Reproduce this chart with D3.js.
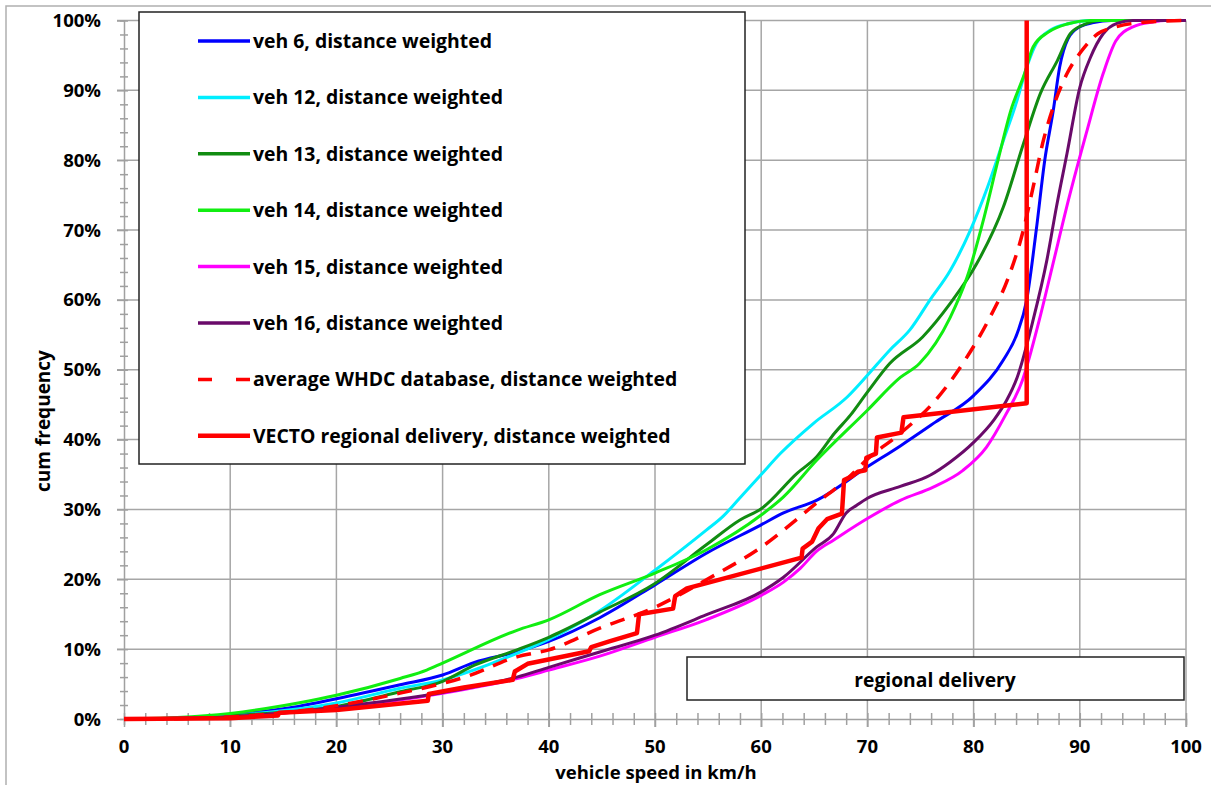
<!DOCTYPE html>
<html>
<head>
<meta charset="UTF-8">
<script src="https://d3js.org/d3.v7.min.js"></script>
<style>
  body { margin: 0; background: #fff; }
  svg text { font-family: "Open Sans", Lato, sans-serif; font-weight: 700; fill: #000; }
</style>
</head>
<body>
<svg></svg>
<script>

var width = 1211, height = 785;

// [speed km/h, cum frequency %]
var veh6 = [[0,0],[5,0.1],[10,0.6],[16.4,1.8],[20,2.9],[26,4.9],[30,6.3],[33,8.1],[37,9.6],[40,11.1],[44.8,14.5],[50,19.2],[54.8,23.7],[60,27.8],[62.1,29.5],[65.2,31.3],[70,36.1],[73.1,39.1],[76.4,42.5],[80,46.3],[82.8,51.4],[84.1,55.2],[85,60],[85.9,70],[86.7,80],[87.5,87.1],[88.1,93.3],[88.9,97.4],[90,99.1],[91.3,99.7],[93,100],[100,100]];
var veh12 = [[0,0],[5,0.1],[10,0.5],[20,2.3],[26,4.4],[30,5.6],[37,9.4],[40,11.4],[44.8,15.5],[50,21.3],[54.8,27],[56.4,29],[57.9,31.5],[60,35],[61.8,38],[64.9,42.3],[68.1,46.1],[70,49.2],[72.1,52.8],[74,55.7],[75.9,60],[77.8,64.2],[79.7,70],[81.3,76.1],[82.8,82.8],[84.1,88.6],[85,93.3],[85.9,96.7],[87.2,98.6],[89.1,99.6],[91,100],[100,100]];
var veh13 = [[0,0],[5,0.1],[10,0.5],[20,1.8],[26,3.9],[30,5.4],[33,7.7],[37,9.9],[40,11.7],[44.8,15.3],[50,19.4],[54.8,24.9],[58,28.5],[60,30.1],[63.4,35.2],[65.2,37.5],[66.9,40.9],[68.4,43.5],[70,46.8],[72.1,50.9],[75.2,54.7],[77.8,59.5],[80.3,65.2],[82.8,73.3],[84.7,82.4],[86.3,89.6],[87.9,94.3],[89.1,98.1],[90.4,99.4],[92,100],[100,100]];
var veh14 = [[0,0],[5,0.2],[10,0.8],[16.4,2.3],[20,3.4],[26,5.8],[28.5,7],[30,8],[37,12.7],[40,14.2],[44.8,17.8],[50,20.9],[54.8,24.2],[60,29.2],[62.1,31.8],[65.2,37],[70,44.2],[73.1,48.9],[74.9,50.9],[77.8,57.5],[79.4,63.3],[81,71.9],[82.3,80],[83.5,87.1],[84.8,92.4],[85.6,96.2],[87,98.3],[88.8,99.5],[91,100],[100,100]];
var veh15 = [[0,0],[5,0.1],[10,0.3],[20,1.6],[30,3.7],[37,5.8],[40,7],[44.8,9],[50,11.7],[54.8,14.2],[60,17.7],[62.1,19.6],[63.7,21.6],[65.2,24],[66.8,25.6],[70,28.7],[73.1,31.3],[76.2,33.2],[79,35.6],[81.2,38.9],[83,43.5],[84.6,48.5],[86.2,57.2],[87.4,64.7],[89,74.7],[90.6,83.8],[92.2,92.4],[93.4,97.1],[95,99.1],[96.9,99.8],[98,100],[100,100]];
var veh16 = [[0,0],[5,0.1],[10,0.3],[20,1.7],[30,3.8],[37,6],[40,7.4],[44.8,9.6],[50,12],[54.8,14.9],[60,18.2],[62.1,20.3],[65.2,24.6],[66.8,26.5],[68,29.5],[69,30.6],[70,31.6],[73.1,33.3],[75.9,34.9],[77.8,36.8],[80,39.6],[81.9,42.8],[83.1,45.6],[84.1,48.9],[85.6,57.1],[86.9,65.7],[87.8,73.3],[88.8,81],[90,90.4],[91,94.7],[92.2,98.1],[93.5,99.6],[95,100],[100,100]];
var avgWhdc = [[0,0],[5,0.05],[10,0.3],[20,1.9],[26,3.7],[30,5.1],[32.3,6.1],[37,8.9],[40,9.9],[44.8,13],[50,16],[54.8,19.9],[60,24.6],[65.2,30.9],[68.1,34.4],[70,37.2],[73.1,40.9],[76.4,45.6],[79.2,51.4],[81.4,57.1],[83.3,63.3],[84.6,69.5],[85.6,76.1],[86.5,82.4],[87.5,87.6],[88.8,92.4],[90,95.3],[91.7,98.1],[93.2,99],[95.7,99.7],[100,100]];
var vecto = [[0,0],[10,0.1],[12,0.3],[14.5,0.5],[14.6,0.9],[20,1.3],[24,1.9],[28.6,2.6],[28.7,3.6],[32,4.5],[36.6,5.6],[36.8,6.8],[38,7.9],[43.8,9.7],[44,10.3],[45.7,11.1],[48.3,12.3],[48.5,15],[51.7,15.8],[51.9,17.6],[53,18.7],[63.8,23.1],[63.9,24.4],[64.8,25.4],[65.4,27.3],[66.2,28.6],[67.6,29.4],[67.8,34.2],[68.5,34.7],[69.1,35.4],[69.8,35.6],[69.9,37.4],[70.8,38],[70.9,40.3],[73.2,41],[73.4,43.2],[85,45.2],[85,100]];

var seriesNames = ["veh 6, distance weighted","veh 12, distance weighted","veh 13, distance weighted","veh 14, distance weighted","veh 15, distance weighted","veh 16, distance weighted","average WHDC database, distance weighted","VECTO regional delivery, distance weighted"];
var seriesData = [veh6, veh12, veh13, veh14, veh15, veh16, avgWhdc, vecto];
var seriesColors = ["#0000ff","#00eeff","#118c11","#11ee11","#ff00ff","#6a0a6a","#ff0000","#ff0000"];

var xTicks = d3.range(0, 101, 10);
var yTicks = d3.range(0, 101, 10);

var svg = d3.select("svg").attr("width", width).attr("height", height);

// chart area frame
svg.append("rect").attr("x", 6).attr("y", 6).attr("width", 1240).attr("height", 820)
  .attr("fill", "#fff").attr("stroke", "#b0b0b0").attr("stroke-width", 1.5);

var x = d3.scaleLinear().domain([0, 100]).range([124, 1186]);
var y = d3.scaleLinear().domain([0, 100]).range([719, 20.5]);

// grid
var grid = svg.append("g").attr("stroke", "#a6a6a6").attr("stroke-width", 1.5);
grid.selectAll(".gx").data(xTicks.slice(1)).enter().append("line")
  .attr("x1", d => x(d)).attr("x2", d => x(d)).attr("y1", y(100)).attr("y2", y(0) + 8);
grid.selectAll(".gy").data(yTicks.slice(1)).enter().append("line")
  .attr("y1", d => y(d)).attr("y2", d => y(d)).attr("x1", x(0) - 7).attr("x2", x(100));

// axes with minor ticks crossing the line
var xAxis = svg.append("g").attr("transform", "translate(0," + y(0) + ")")
  .call(d3.axisBottom(x).tickValues(d3.range(0, 101, 2)).tickSize(6).tickFormat(""));
xAxis.selectAll(".tick line").attr("y1", -6).attr("y2", 6);
xAxis.selectAll(".tick").filter(d => d % 10 === 0).select("line").attr("y2", 8);
var yAxis = svg.append("g").attr("transform", "translate(" + x(0) + ",0)")
  .call(d3.axisLeft(y).tickValues(d3.range(0, 101, 2)).tickSize(4).tickFormat(""));
yAxis.selectAll(".tick line").attr("x1", 4).attr("x2", -4);
yAxis.selectAll(".tick").filter(d => d % 10 === 0).select("line").attr("x2", -7);
svg.selectAll(".domain").attr("stroke", "#a0a0a0").attr("stroke-width", 1.5);
svg.selectAll(".tick line").attr("stroke", "#a0a0a0").attr("stroke-width", 1.5);

// tick labels
svg.append("g").selectAll("text").data(xTicks).enter().append("text")
  .attr("x", d => x(d)).attr("y", 753).attr("text-anchor", "middle")
  .attr("font-size", 18.5).text(d => d);
svg.append("g").selectAll("text").data(yTicks).enter().append("text")
  .attr("x", 101).attr("y", d => y(d) + 6.5).attr("text-anchor", "end")
  .attr("font-size", 18.5).text(d => d + "%");

svg.append("text").attr("x", 656).attr("y", 779).attr("text-anchor", "middle")
  .attr("font-size", 18.5).text("vehicle speed in km/h");
svg.append("text").attr("transform", "translate(50,421) rotate(-90)").attr("text-anchor", "middle")
  .attr("font-size", 19).text("cum frequency");

// lines
var smooth = d3.line().x(d => x(d[0])).y(d => y(d[1])).curve(d3.curveMonotoneX);
var straight = d3.line().x(d => x(d[0])).y(d => y(d[1]));

seriesData.forEach(function (s, i) {
  svg.append("path")
    .attr("d", i === 7 ? straight(s) : smooth(s))
    .attr("fill", "none")
    .attr("stroke", seriesColors[i])
    .attr("stroke-width", i === 7 ? 4.5 : (i === 6 ? 3.5 : 3))
    .attr("stroke-linejoin", "round")
    .attr("stroke-dasharray", i === 6 ? "15,10" : null);
});

// region box
svg.append("rect").attr("x", 687).attr("y", 657).attr("width", 497).attr("height", 43)
  .attr("fill", "#fff").attr("stroke", "#222").attr("stroke-width", 1.5);
svg.append("text").attr("x", 935).attr("y", 687).attr("text-anchor", "middle")
  .attr("font-size", 19.3).text("regional delivery");

// legend
var legend = svg.append("g");
legend.append("rect").attr("x", 139).attr("y", 12).attr("width", 606).attr("height", 452)
  .attr("fill", "#fff").attr("stroke", "#222").attr("stroke-width", 1.5);
var rows = legend.selectAll(".row").data(seriesNames).enter().append("g")
  .attr("transform", (d, i) => "translate(0," + (41 + i * 56.4) + ")");
rows.append("line").attr("x1", 198).attr("x2", 250).attr("y1", 0).attr("y2", 0)
  .attr("stroke", (d, i) => seriesColors[i])
  .attr("stroke-width", (d, i) => i === 7 ? 4.5 : 3.5)
  .attr("stroke-dasharray", (d, i) => i === 6 ? "14,24" : null);
rows.append("text").attr("x", 253).attr("y", 7).attr("font-size", 19.4).text(d => d);

</script>
</body>
</html>
